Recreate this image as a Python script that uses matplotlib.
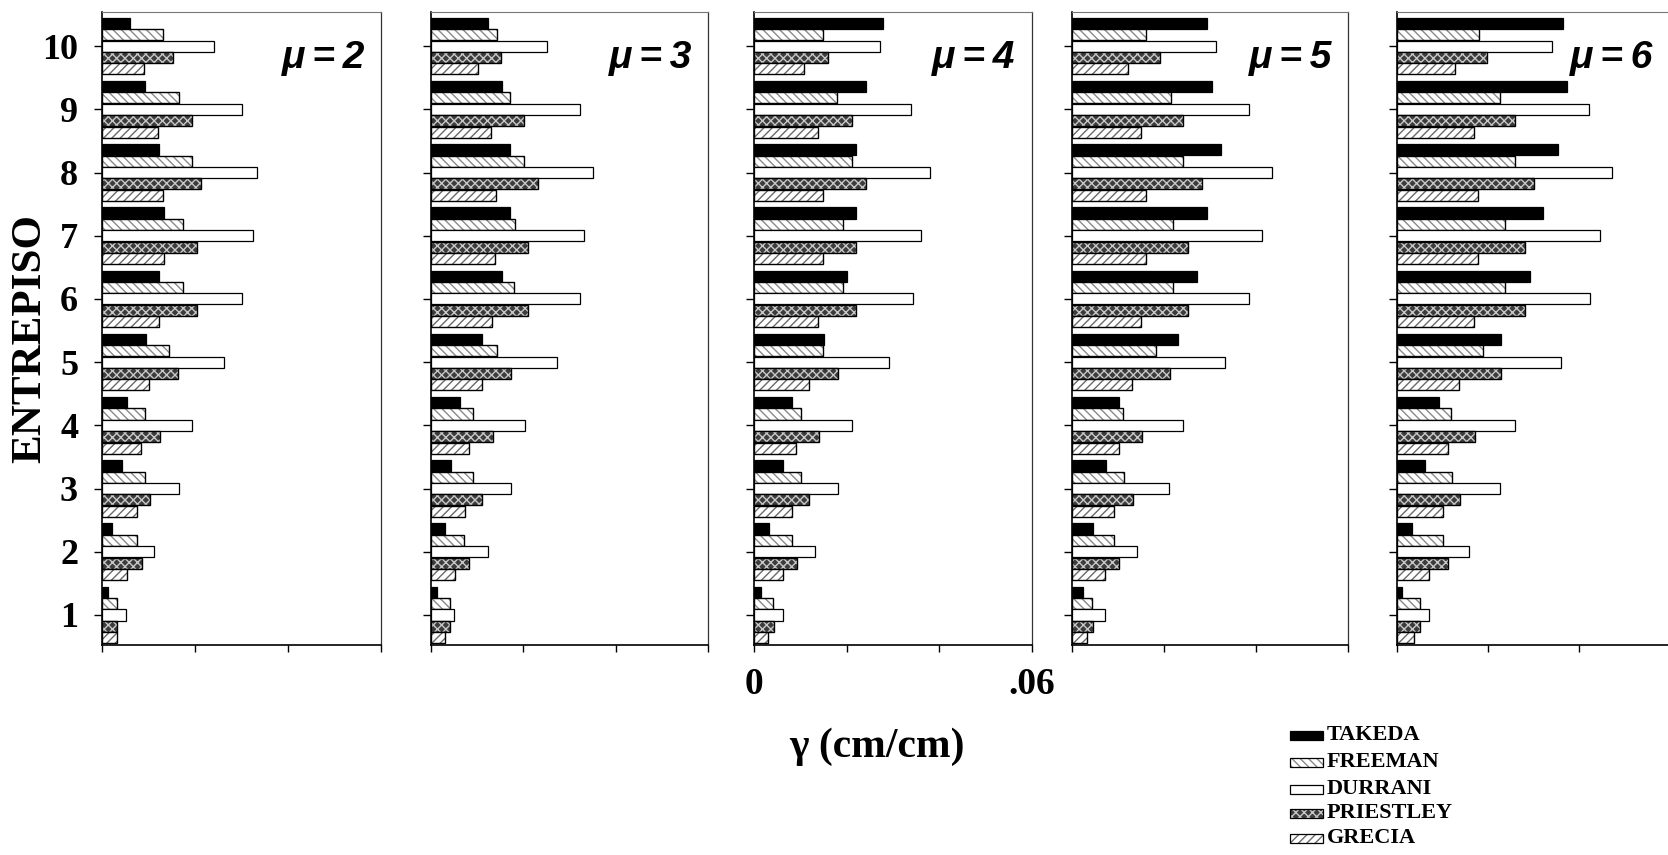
import numpy as np
import matplotlib
matplotlib.use("Agg")
import matplotlib.pyplot as plt
from matplotlib.patches import Rectangle

stories = np.arange(1, 11)
methods = ["TAKEDA", "FREEMAN", "DURRANI", "PRIESTLEY", "GRECIA"]
ductility = [2, 3, 4, 5, 6]

# story drifts (cm/cm), stories 1..10
takeda_mu2 = [0.0013, 0.0022, 0.0044, 0.0054, 0.0095, 0.0124, 0.0134, 0.0123, 0.0093, 0.0061]
freeman_mu2 = [0.0032, 0.0075, 0.0093, 0.0093, 0.0145, 0.0174, 0.0174, 0.0193, 0.0165, 0.0132]
durrani_mu2 = [0.0052, 0.0112, 0.0167, 0.0193, 0.0263, 0.0302, 0.0324, 0.0333, 0.0302, 0.0242]
priestley_mu2 = [0.0032, 0.0086, 0.0104, 0.0125, 0.0163, 0.0204, 0.0204, 0.0213, 0.0195, 0.0153]
grecia_mu2 = [0.0032, 0.0054, 0.0075, 0.0084, 0.0102, 0.0123, 0.0134, 0.0132, 0.0122, 0.0091]

takeda_mu3 = [0.0013, 0.0032, 0.0043, 0.0063, 0.0112, 0.0154, 0.0172, 0.0172, 0.0154, 0.0123]
freeman_mu3 = [0.0042, 0.0072, 0.0092, 0.0091, 0.0143, 0.0180, 0.0183, 0.0202, 0.0172, 0.0143]
durrani_mu3 = [0.0050, 0.0123, 0.0173, 0.0204, 0.0273, 0.0323, 0.0332, 0.0352, 0.0323, 0.0252]
priestley_mu3 = [0.0042, 0.0083, 0.0112, 0.0134, 0.0173, 0.0211, 0.0211, 0.0233, 0.0202, 0.0152]
grecia_mu3 = [0.0031, 0.0053, 0.0074, 0.0083, 0.0112, 0.0132, 0.0140, 0.0141, 0.0130, 0.0103]

takeda_mu4 = [0.0014, 0.0032, 0.0061, 0.0082, 0.0151, 0.0200, 0.0221, 0.0221, 0.0241, 0.0279]
freeman_mu4 = [0.0041, 0.0081, 0.0101, 0.0101, 0.0149, 0.0191, 0.0191, 0.0211, 0.0178, 0.0148]
durrani_mu4 = [0.0061, 0.0131, 0.0182, 0.0212, 0.0292, 0.0343, 0.0360, 0.0380, 0.0340, 0.0272]
priestley_mu4 = [0.0042, 0.0092, 0.0119, 0.0141, 0.0181, 0.0221, 0.0220, 0.0241, 0.0211, 0.0159]
grecia_mu4 = [0.0030, 0.0061, 0.0082, 0.0090, 0.0119, 0.0138, 0.0148, 0.0148, 0.0138, 0.0108]

takeda_mu5 = [0.0024, 0.0044, 0.0073, 0.0102, 0.0230, 0.0272, 0.0292, 0.0323, 0.0303, 0.0292]
freeman_mu5 = [0.0043, 0.0091, 0.0112, 0.0111, 0.0181, 0.0220, 0.0220, 0.0241, 0.0215, 0.0160]
durrani_mu5 = [0.0072, 0.0141, 0.0211, 0.0241, 0.0333, 0.0384, 0.0412, 0.0435, 0.0384, 0.0312]
priestley_mu5 = [0.0044, 0.0102, 0.0131, 0.0151, 0.0212, 0.0251, 0.0251, 0.0281, 0.0241, 0.0191]
grecia_mu5 = [0.0033, 0.0072, 0.0091, 0.0102, 0.0130, 0.0149, 0.0160, 0.0160, 0.0149, 0.0120]

takeda_mu6 = [0.0012, 0.0033, 0.0062, 0.0092, 0.0229, 0.0292, 0.0321, 0.0354, 0.0375, 0.0365]
freeman_mu6 = [0.0051, 0.0101, 0.0121, 0.0120, 0.0189, 0.0239, 0.0239, 0.0261, 0.0228, 0.0180]
durrani_mu6 = [0.0070, 0.0158, 0.0228, 0.0259, 0.0362, 0.0424, 0.0447, 0.0474, 0.0423, 0.0342]
priestley_mu6 = [0.0051, 0.0112, 0.0140, 0.0171, 0.0229, 0.0281, 0.0282, 0.0301, 0.0261, 0.0199]
grecia_mu6 = [0.0039, 0.0072, 0.0101, 0.0112, 0.0138, 0.0169, 0.0178, 0.0178, 0.0169, 0.0129]

panels = [
    [takeda_mu2, freeman_mu2, durrani_mu2, priestley_mu2, grecia_mu2],
    [takeda_mu3, freeman_mu3, durrani_mu3, priestley_mu3, grecia_mu3],
    [takeda_mu4, freeman_mu4, durrani_mu4, priestley_mu4, grecia_mu4],
    [takeda_mu5, freeman_mu5, durrani_mu5, priestley_mu5, grecia_mu5],
    [takeda_mu6, freeman_mu6, durrani_mu6, priestley_mu6, grecia_mu6],
]

# face colour, hatch, hatch colour for each method
styles = [
    ("black", None, "black"),
    ("white", "\\\\\\\\", "#8a8a8a"),
    ("white", None, "white"),
    ("#3c3c3c", "xxxx", "#c8c8c8"),
    ("white", "////", "#6a6a6a"),
]

plt.rcParams["hatch.linewidth"] = 1.0
serif = "Liberation Serif"

W, H = 1668, 855
fig = plt.figure(figsize=(W / 100, H / 100), dpi=100)

lefts = [101.7, 430.7, 754.3, 1072.3, 1396.7]
widths = [279.3, 277.3, 277.4, 276.0, 273.0]
bottom_px, top_px = 645, 12

bar_h = 0.175
step = 0.18
offsets = [2 * step, step, 0, -step, -2 * step]

for k, (left, width, data) in enumerate(zip(lefts, widths, panels)):
    ax = fig.add_axes([left / W, 1 - bottom_px / H, width / W, (bottom_px - top_px) / H])
    for vals, off, (fc, hatch, hc) in zip(data, offsets, styles):
        y = stories + off
        if hatch:
            ax.barh(y, vals, height=bar_h, color=fc, hatch=hatch, edgecolor=hc, linewidth=0)
            ax.barh(y, vals, height=bar_h, fill=False, edgecolor="black", linewidth=1.0)
        else:
            ax.barh(y, vals, height=bar_h, color=fc, edgecolor="black", linewidth=0.9)
    ax.set_xlim(0, 0.06)
    ax.set_ylim(0.525, 10.54)
    ax.set_xticks([0, 0.02, 0.04, 0.06])
    ax.set_yticks(stories)
    ax.tick_params(axis="y", length=6, width=1, direction="out")
    ax.tick_params(axis="x", length=5, width=1, direction="out")
    if k == 0:
        ax.set_yticklabels([str(s) for s in stories], fontfamily=serif,
                           fontweight="bold", fontsize=26)
        ax.tick_params(axis="y", pad=11)
    else:
        ax.set_yticklabels([])
    if k == 2:
        ax.set_xticklabels(["0", "", "", ".06"], fontfamily=serif,
                           fontweight="bold", fontsize=27)
        ax.tick_params(axis="x", pad=11)
    else:
        ax.set_xticklabels([])
    for side in ("left", "bottom"):
        ax.spines[side].set_linewidth(1.2)
    ax.spines["right"].set_linewidth(0.9)
    ax.spines["right"].set_color("#333333")
    ax.spines["top"].set_linewidth(0.8)
    ax.spines["top"].set_color("#777777")
    ax.text(1 - 16 / width, 1 - 46 / (bottom_px - top_px),
            "\u03bc\u2009=\u2009" + str(ductility[k]), transform=ax.transAxes,
            ha="right", va="center", fontfamily="Liberation Sans",
            fontweight="bold", fontstyle="italic", fontsize=28)

fig.text(30 / W, 1 - 338 / H, "ENTREPISO", rotation=90, ha="center", va="center",
         fontfamily=serif, fontweight="bold", fontsize=31)
fig.text(877 / W, 1 - 747 / H, "\u03b3 (cm/cm)", ha="center", va="center",
         fontfamily=serif, fontweight="bold", fontsize=30)

# legend keys
row_y = [735, 762, 789, 813, 838]
for name, ry, (fc, hatch, hc) in zip(methods, row_y, styles):
    x0, w, h = 1290, 33, 9
    rect = Rectangle((x0 / W, 1 - (ry + h / 2) / H), w / W, h / H, transform=fig.transFigure,
                     facecolor=fc, hatch=hatch, edgecolor=hc if hatch else "black",
                     linewidth=0 if hatch else 0.9)
    fig.patches.append(rect)
    if hatch:
        fig.patches.append(Rectangle((x0 / W, 1 - (ry + h / 2) / H), w / W, h / H,
                                     transform=fig.transFigure, fill=False,
                                     edgecolor="black", linewidth=0.9))
    fig.text(1327 / W, 1 - ry / H, name, ha="left", va="center",
             fontfamily=serif, fontweight="bold", fontsize=16)

fig.savefig("out.png", dpi=100)
